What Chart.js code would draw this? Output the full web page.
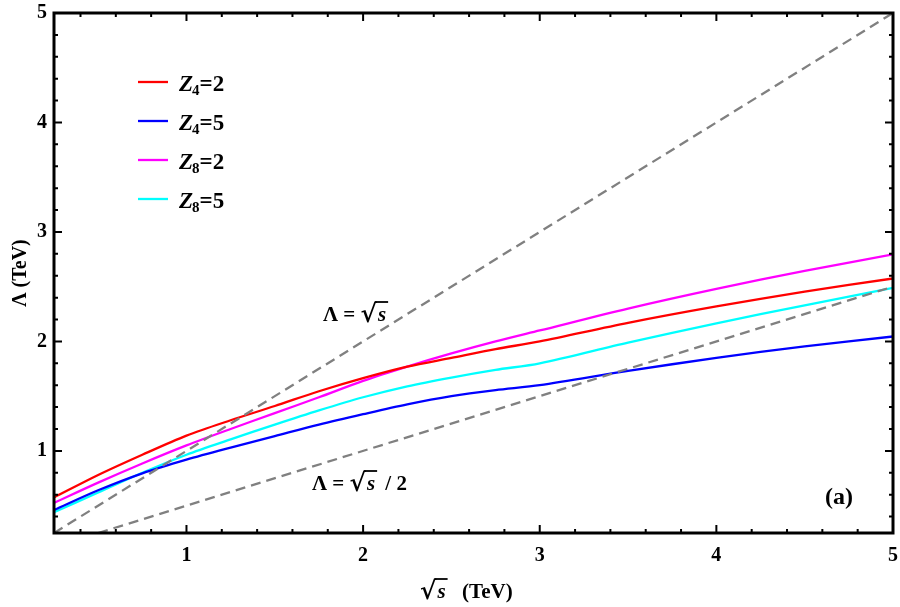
<!DOCTYPE html>
<html>
<head>
<meta charset="utf-8">
<script src="https://cdn.jsdelivr.net/npm/chart.js@4.4.1/dist/chart.umd.min.js"></script>
<style>
  html, body { margin: 0; padding: 0; background: #fff; }
  #box { width: 900px; height: 607px; }
</style>
</head>
<body>
<div id="box"><canvas id="myChart" width="900" height="607"></canvas></div>
<script>
// sqrt(s) in TeV
var xs = [0.25, 0.5, 0.75, 1, 1.25, 1.5, 1.75, 2, 2.25, 2.5, 2.75, 3, 3.5, 4, 4.5, 5];

// Lambda (TeV) for each curve
var z4_2 = [0.575, 0.78, 0.965, 1.14, 1.28, 1.41, 1.545, 1.665, 1.77, 1.85, 1.93, 2.00, 2.17, 2.32, 2.455, 2.575];
var z4_5 = [0.46, 0.64, 0.795, 0.92, 1.03, 1.135, 1.24, 1.335, 1.425, 1.50, 1.555, 1.60, 1.73, 1.85, 1.955, 2.045];
var z8_2 = [0.525, 0.71, 0.885, 1.05, 1.20, 1.345, 1.49, 1.64, 1.77, 1.89, 2.00, 2.10, 2.30, 2.48, 2.645, 2.795];
var z8_5 = [0.44, 0.62, 0.80, 0.965, 1.105, 1.24, 1.37, 1.49, 1.59, 1.67, 1.74, 1.80, 1.99, 2.165, 2.33, 2.49];

// reference lines Lambda = sqrt(s) and Lambda = sqrt(s)/2
var diagX = [0.25, 5];
var diagY = [0.25, 5];
var halfX = [0.5, 5];
var halfY = [0.25, 2.5];

var majorTicks = [1, 2, 3, 4, 5];
var minorTicks = [0.4, 0.6, 0.8, 1.2, 1.4, 1.6, 1.8, 2.2, 2.4, 2.6, 2.8, 3.2, 3.4, 3.6, 3.8, 4.2, 4.4, 4.6, 4.8];

var legendNames = [['4', '=2'], ['4', '=5'], ['8', '=2'], ['8', '=5']];
var colors = ['#ff0000', '#0000ff', '#ff00ff', '#00ffff'];

var serif = '"Liberation Serif", "DejaVu Serif", serif';

function pts(xv, yv) {
    return xv.map(function (x, i) { return { x: x, y: yv[i] }; });
}

function curve(data, color) {
    return {
        data: data,
        borderColor: color,
        borderWidth: 2.3,
        pointRadius: 0,
        showLine: true,
        fill: false,
        tension: 0.3
    };
}

function dashed(data) {
    return {
        data: data,
        borderColor: '#808080',
        borderWidth: 2.3,
        borderDash: [10, 6],
        pointRadius: 0,
        showLine: true,
        fill: false
    };
}

// radical sign with overline over an italic s, returns end x
function drawRadical(ctx, x, y, size) {
    var rs = Math.round(size * 1.2);
    ctx.font = 'bold ' + rs + 'px "DejaVu Serif", serif';
    ctx.fillText('\u221A', x, y + 1);
    var m = ctx.measureText('\u221A');
    var w = m.width;
    var top = y + 1 - m.actualBoundingBoxAscent + 1;
    ctx.font = 'italic bold ' + size + 'px ' + serif;
    ctx.fillText('s', x + w + 1, y);
    var ws = ctx.measureText('s').width;
    ctx.beginPath();
    ctx.lineWidth = 1.8;
    ctx.moveTo(x + w - 2, top);
    ctx.lineTo(x + w + ws + 3, top);
    ctx.stroke();
    return x + w + ws + 3;
}

var decor = {
    id: 'decor',
    afterDatasetsDraw: function (chart) {
        var ctx = chart.ctx;
        var a = chart.chartArea;
        var sx = chart.scales.x, sy = chart.scales.y;
        ctx.save();
        ctx.strokeStyle = '#000';
        ctx.fillStyle = '#000';

        // frame
        ctx.lineWidth = 3;
        ctx.strokeRect(a.left, a.top, a.right - a.left, a.bottom - a.top);

        // inward ticks on all four sides
        ctx.lineWidth = 2;
        function tickSet(vals, len) {
            vals.forEach(function (v) {
                var px = sx.getPixelForValue(v);
                var py = sy.getPixelForValue(v);
                ctx.beginPath();
                ctx.moveTo(px, a.bottom); ctx.lineTo(px, a.bottom - len);
                ctx.moveTo(px, a.top); ctx.lineTo(px, a.top + len);
                ctx.moveTo(a.left, py); ctx.lineTo(a.left + len, py);
                ctx.moveTo(a.right, py); ctx.lineTo(a.right - len, py);
                ctx.stroke();
            });
        }
        tickSet(majorTicks, 8);
        tickSet(minorTicks, 4);

        // legend
        ctx.textBaseline = 'alphabetic';
        ctx.textAlign = 'left';
        var ly = [82, 121, 160, 199];
        legendNames.forEach(function (n, i) {
            ctx.strokeStyle = colors[i];
            ctx.lineWidth = 2.3;
            ctx.beginPath();
            ctx.moveTo(138, ly[i]); ctx.lineTo(168, ly[i]);
            ctx.stroke();
            var x = 179, y = ly[i] + 9;
            ctx.font = 'italic bold 23px ' + serif;
            ctx.fillText('Z', x, y);
            x += ctx.measureText('Z').width - 1;
            ctx.font = 'bold 15px ' + serif;
            ctx.fillText(n[0], x, y + 4);
            x += ctx.measureText(n[0]).width;
            ctx.font = 'bold 23px ' + serif;
            ctx.fillText(n[1], x, y);
        });

        ctx.strokeStyle = '#000';
        // line labels
        ctx.font = 'bold 21px ' + serif;
        ctx.fillText('\u039B = ', 323, 321);
        drawRadical(ctx, 323 + ctx.measureText('\u039B = ').width, 321, 21);

        ctx.font = 'bold 21px ' + serif;
        ctx.fillText('\u039B = ', 312, 490);
        var ex = drawRadical(ctx, 312 + ctx.measureText('\u039B = ').width, 490, 21);
        ctx.font = 'bold 21px ' + serif;
        ctx.fillText(' / 2', ex + 3, 490);

        // panel tag
        ctx.font = 'bold 24px ' + serif;
        ctx.fillText('(a)', 825, 504);

        // x axis title
        var e2 = drawRadical(ctx, 420, 598, 21);
        ctx.font = 'bold 21px ' + serif;
        ctx.fillText('  (TeV)', e2 + 4, 598);

        // y axis title
        ctx.translate(26, 273);
        ctx.rotate(-Math.PI / 2);
        ctx.textAlign = 'center';
        ctx.font = 'bold 20px ' + serif;
        ctx.fillText('\u039B (TeV)', 0, 0);
        ctx.restore();
    }
};

var tickFont = { family: serif, size: 20, weight: 'bold' };

var config = {
    type: 'scatter',
    data: {
        datasets: [
            dashed(pts(diagX, diagY)),
            dashed(pts(halfX, halfY)),
            curve(pts(xs, z4_2), colors[0]),
            curve(pts(xs, z4_5), colors[1]),
            curve(pts(xs, z8_2), colors[2]),
            curve(pts(xs, z8_5), colors[3])
        ]
    },
    options: {
        responsive: false,
        animation: false,
        layout: { padding: { top: 13, right: 7, left: 0, bottom: 0 } },
        plugins: {
            legend: { display: false },
            tooltip: { enabled: false }
        },
        scales: {
            x: {
                type: 'linear',
                min: 0.25,
                max: 5,
                afterBuildTicks: function (s) { s.ticks = majorTicks.map(function (v) { return { value: v }; }); },
                afterFit: function (s) { s.height = 74; s.paddingLeft = 0; s.paddingRight = 0; },
                grid: { display: false, drawTicks: false },
                border: { display: false },
                ticks: { color: '#000', font: tickFont, padding: 11, maxRotation: 0 }
            },
            y: {
                type: 'linear',
                min: 0.25,
                max: 5,
                afterBuildTicks: function (s) { s.ticks = majorTicks.map(function (v) { return { value: v }; }); },
                afterFit: function (s) { s.width = 54; s.paddingTop = 0; s.paddingBottom = 0; },
                grid: { display: false, drawTicks: false },
                border: { display: false },
                ticks: { color: '#000', font: tickFont, padding: 7 }
            }
        }
    },
    plugins: [decor]
};

var mychart = new Chart(document.getElementById('myChart'), config);
</script>
</body>
</html>
